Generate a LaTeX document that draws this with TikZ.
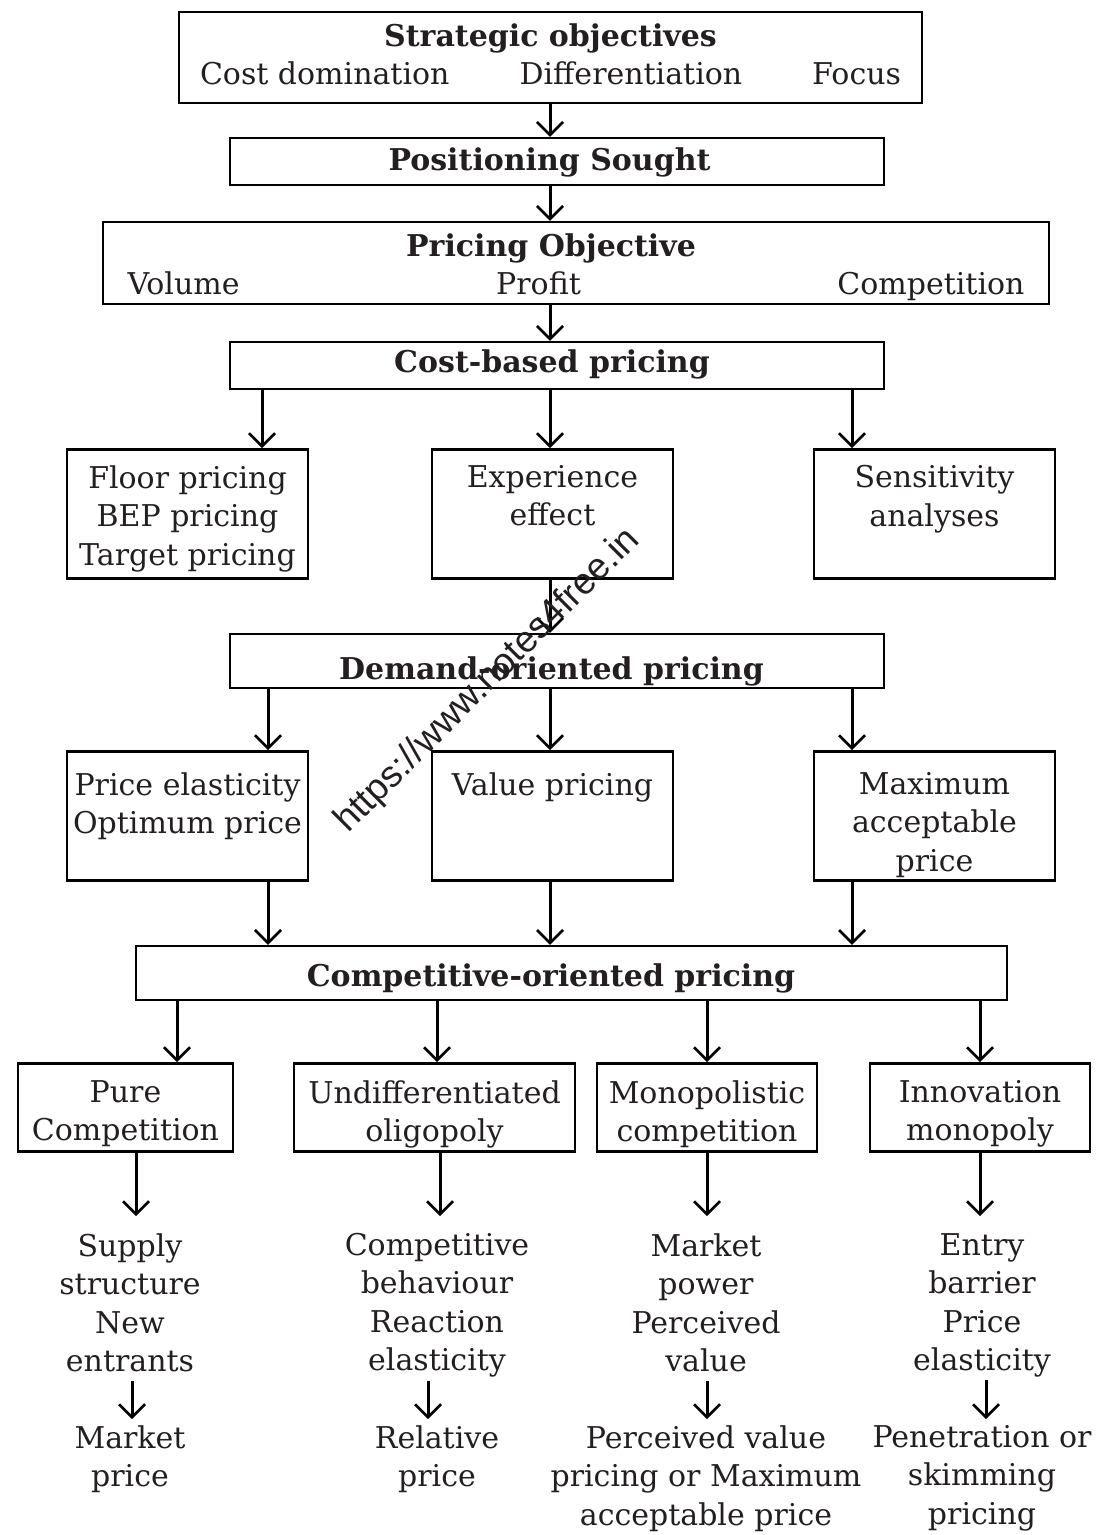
\documentclass[tikz,border=0pt]{standalone}
\usepackage{fontspec}
\setmainfont{DejaVu Serif}
\newfontfamily\markfont{Liberation Sans}
\usetikzlibrary{arrows.meta,positioning}
\newcommand{\cellw}{241pt}
\newcommand{\cellh}{101pt}
\newcommand{\celltxt}[2][2pt]{\parbox[t][\cellh][t]{\cellw}{\vspace*{#1}\centering #2}}
\newcommand{\mkttxt}[2]{\parbox[t][60pt][t]{#1}{\vspace*{3pt}\centering #2}}
% text of a bar: x offset, drop of baseline, text
\newcommand{\bartxt}[3]{\raisebox{-#2}[0pt][0pt]{\makebox[0pt]{\hspace*{2\dimexpr #1\relax}\textbf{#3}}}}
\definecolor{inkcol}{RGB}{35,31,32}
\tikzset{
    barsty/.style={draw, line width=2.5pt, inner sep=0pt},
    cellsty/.style={draw, line width=2.5pt, inner xsep=0pt, inner ysep=14pt, anchor=north},
    mktsty/.style={draw, line width=2.5pt, inner xsep=0pt, inner ysep=14pt, anchor=north},
    txtsty/.style={align=center, inner sep=0pt, anchor=north},
    endsty/.style={txtsty, execute at end node=\strut},
    arrsty/.style={line width=3pt, -{Straight Barb[length=13pt,width=26pt,line width=2.5pt]}},
    marksty/.style={font=\markfont\fontsize{37}{40}\selectfont, rotate=45, inner sep=0pt},
}

\begin{document}
\begin{tikzpicture}[x=1pt, y=-1pt, every node/.style={font=\fontsize{30}{38.5}\selectfont, text=inkcol}]
  \useasboundingbox (0,0) rectangle (1102,1535);

  % top chain
  \node[barsty, minimum width=743pt, minimum height=91pt] (strat) at (550.5,57.5)
    {\raisebox{11.5pt}[0pt][0pt]{\makebox[0pt]{\begin{tabular}[t]{@{}c@{}}\textbf{Strategic objectives}\\
      \makebox[701pt]{Cost domination\hfill Differentiation\hfill Focus}\end{tabular}}}};
  \node[barsty, minimum width=654pt, minimum height=47pt] (pos) at (557,161.5) {\bartxt{-7.5pt}{8.5pt}{Positioning Sought}};
  \node[barsty, minimum width=946pt, minimum height=82pt] (obj) at (576,263)
    {\raisebox{7pt}[0pt][0pt]{\makebox[0pt]{\begin{tabular}[t]{@{}c@{}}\hspace*{-50pt}\textbf{Pricing Objective}\\
      \makebox[897pt]{Volume\hfill Profit\hfill Competition}\end{tabular}}}};
  \node[barsty, minimum width=654pt, minimum height=47pt] (cost) at (557,365.5) {\bartxt{-5pt}{6.5pt}{Cost-based pricing}};

  \draw[arrsty] (strat.south -| 550,0) -- (pos.north -| 550,0);
  \draw[arrsty] (pos.south -| 550,0) -- (obj.north -| 550,0);
  \draw[arrsty] (obj.south -| 550,0) -- (cost.north -| 550,0);

  % cost based row
  \node[cellsty] (floor) at (187.5,448) {\celltxt{Floor pricing\\BEP pricing\\Target pricing}};
  \node[cellsty] (exper) at (552.5,448) {\celltxt{Experience\\effect}};
  \node[cellsty] (sens) at (934.5,448) {\celltxt{Sensitivity\\analyses}};

  \draw[arrsty] (cost.south -| 262,0) -- (floor.north -| 262,0);
  \draw[arrsty] (cost.south -| 550,0) -- (exper.north -| 550,0);
  \draw[arrsty] (cost.south -| 852,0) -- (sens.north -| 852,0);

  % demand oriented row
  \node[barsty, minimum width=654pt, minimum height=54pt] (dem) at (557,661) {\bartxt{-5.5pt}{18pt}{Demand-oriented pricing}};
  \draw[arrsty] (exper.south -| 550,0) -- (dem.north -| 550,0);

  \node[cellsty] (elast) at (187.5,750) {\celltxt[7pt]{Price elasticity\\Optimum price}};
  \node[cellsty] (value) at (552.5,750) {\celltxt[7pt]{Value pricing}};
  \node[cellsty] (maxacc) at (934.5,750) {\celltxt[7pt]{Maximum\\acceptable\\price}};

  \draw[arrsty] (dem.south -| 268,0) -- (elast.north -| 268,0);
  \draw[arrsty] (dem.south -| 550,0) -- (value.north -| 550,0);
  \draw[arrsty] (dem.south -| 852,0) -- (maxacc.north -| 852,0);

  % competitive oriented row
  \node[barsty, minimum width=871pt, minimum height=54pt] (comp) at (571.5,973) {\bartxt{-20.5pt}{13pt}{Competitive-oriented pricing}};

  \draw[arrsty] (elast.south -| 268,0) -- (comp.north -| 268,0);
  \draw[arrsty] (value.south -| 550,0) -- (comp.north -| 550,0);
  \draw[arrsty] (maxacc.south -| 852,0) -- (comp.north -| 852,0);

  \node[mktsty] (pure) at (125.5,1062) {\mkttxt{215pt}{Pure\\Competition}};
  \node[mktsty] (undif) at (434.5,1062) {\mkttxt{281pt}{Undifferentiated\\oligopoly}};
  \node[mktsty] (mono) at (707,1062) {\mkttxt{220pt}{Monopolistic\\competition}};
  \node[mktsty] (innov) at (980,1062) {\mkttxt{220pt}{Innovation\\monopoly}};

  \draw[arrsty] (comp.south -| 177,0) -- (pure.north -| 177,0);
  \draw[arrsty] (comp.south -| 437,0) -- (undif.north -| 437,0);
  \draw[arrsty] (comp.south -| 707,0) -- (mono.north -| 707,0);
  \draw[arrsty] (comp.south -| 980,0) -- (innov.north -| 980,0);

  % factors and resulting price
  \node[endsty] (supply) at (130,1233) {Supply\\structure\\New\\entrants};
  \node[endsty] (behav) at (437,1233) {Competitive\\behaviour\\Reaction\\elasticity};
  \node[endsty] (power) at (706,1233) {Market\\power\\Perceived\\value};
  \node[endsty] (entry) at (982,1233) {Entry\\barrier\\Price\\elasticity};

  \draw[arrsty, shorten >=17pt] (pure.south -| 136,0) -- (supply.north -| 136,0);
  \draw[arrsty, shorten >=17pt] (undif.south -| 440,0) -- (behav.north -| 440,0);
  \draw[arrsty, shorten >=17pt] (mono.south -| 707,0) -- (power.north -| 707,0);
  \draw[arrsty, shorten >=17pt] (innov.south -| 980,0) -- (entry.north -| 980,0);

  \node[txtsty] (mktprice) at (130,1425) {Market\\price};
  \node[txtsty] (relprice) at (437,1425) {Relative\\price};
  \node[txtsty] (pvprice) at (706,1425) {Perceived value\\pricing or Maximum\\acceptable price};
  \node[txtsty] (penet) at (982,1425) {Penetration or\\skimming\\pricing};

  \draw[arrsty, shorten <=-2pt, shorten >=6pt] (supply.south -| 132,0) -- (mktprice.north -| 132,0);
  \draw[arrsty, shorten <=-2pt, shorten >=6pt] (behav.south -| 428,0) -- (relprice.north -| 428,0);
  \draw[arrsty, shorten <=-2pt, shorten >=6pt] (power.south -| 707,0) -- (pvprice.north -| 707,0);
  \draw[arrsty, shorten <=-2pt, shorten >=6pt] (entry.south -| 986,0) -- (penet.north -| 986,0);

  % watermark
  \node[marksty] (wmark) at (488,681) {https://www.notes4free.in};
\end{tikzpicture}
\end{document}
